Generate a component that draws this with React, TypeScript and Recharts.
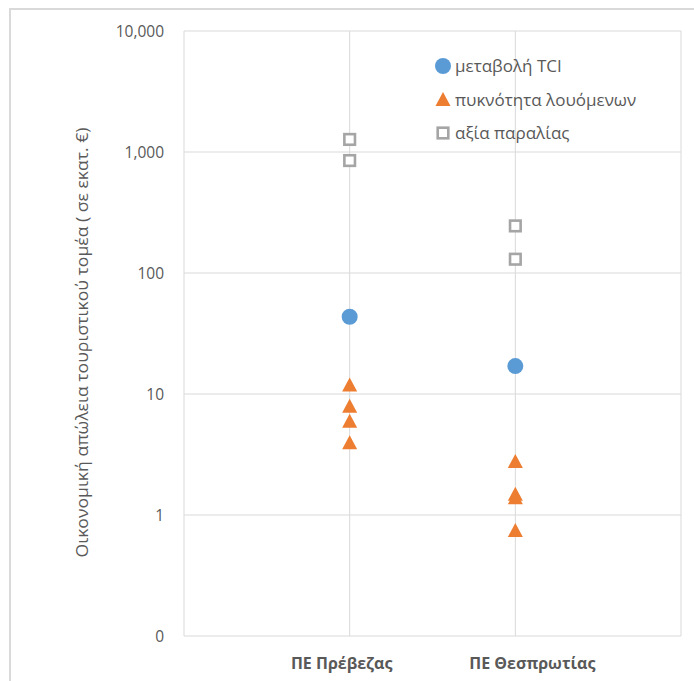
import React from 'react';
import { ScatterChart, Scatter, XAxis, YAxis, CartesianGrid, Legend } from 'recharts';

// categories on the x axis
const categories = ['ΠΕ Πρέβεζας', 'ΠΕ Θεσπρωτίας'];

// values per category (million €)
const tciChange = [[43.5], [17]];
const bathersDensity = [[12, 8, 6, 4], [2.8, 1.5, 1.4, 0.75]];
const beachValue = [[1270, 850], [245, 130]];

const yTicks = [0.1, 1, 10, 100, 1000, 10000];
const xTicks = [0, 1, 2, 3];

const seriesNames = ['μεταβολή TCI', 'πυκνότητα λουόμενων', 'αξία παραλίας'];

const BLUE = '#5B9BD5';
const ORANGE = '#ED7D31';
const GREY = '#A5A5A5';
const TEXT = '#595959';
const FONT = '"Open Sans", sans-serif';

const toPoints = (vals: number[][]) =>
  vals.flatMap((list, i) => list.map((v) => ({ x: i + 1, y: v })));

const CircleMark = (p: any) => <circle cx={p.cx} cy={p.cy} r={8} fill={BLUE} />;
const TriangleMark = (p: any) => (
  <polygon
    points={`${p.cx},${p.cy - 7} ${p.cx + 7.5},${p.cy + 7} ${p.cx - 7.5},${p.cy + 7}`}
    fill={ORANGE}
  />
);
const SquareMark = (p: any) => (
  <rect x={p.cx - 5.3} y={p.cy - 5.3} width={10.6} height={10.6} fill="#fff" stroke={GREY} strokeWidth={2.6} />
);

// the category labels sit a little off their gridlines in the original
const labelShift = [-8, 17];

const CategoryTick = ({ x, y, payload }: any) => {
  const i = payload.value - 1;
  if (!categories[i]) return null;
  return (
    <text
      x={x + labelShift[i]}
      y={y}
      dy="0.71em"
      textAnchor="middle"
      fill={TEXT}
      fontFamily={FONT}
      fontSize={16}
      fontWeight={700}
    >
      {categories[i]}
    </text>
  );
};

const LegendBox = () => {
  const icons = [
    <circle cx={8} cy={8} r={8} fill={BLUE} />,
    <polygon points="8,1 15.5,15 0.5,15" fill={ORANGE} />,
    <rect x={2.7} y={2.7} width={10.6} height={10.6} fill="#fff" stroke={GREY} strokeWidth={2.6} />,
  ];
  return (
    <div style={{ fontFamily: FONT, fontSize: 17, color: TEXT }}>
      {seriesNames.map((n, i) => (
        <div key={n} style={{ display: 'flex', alignItems: 'center', height: 33.5 }}>
          <svg width={16} height={16} style={{ marginRight: 4 }}>{icons[i]}</svg>
          <span>{n}</span>
        </div>
      ))}
    </div>
  );
};

const YTitle = ({ viewBox }: any) => {
  const x = viewBox.x + 82;
  const y = viewBox.y + viewBox.height / 2 + 9;
  return (
    <text
      x={x}
      y={y}
      transform={`rotate(-90 ${x} ${y})`}
      textAnchor="middle"
      dominantBaseline="central"
      fill={TEXT}
      fontFamily={FONT}
      fontSize={16}
      textLength={430}
      lengthAdjust="spacingAndGlyphs"
    >
      Οικονομική απώλεια τουριστικού τομέα ( σε εκατ. €)
    </text>
  );
};

export default function App() {
  return (
    <div style={{ position: 'absolute', left: 0, top: 0, width: 694, height: 681, overflow: 'hidden', background: '#fff' }}>
      <div
        style={{
          position: 'absolute',
          left: 9,
          top: 8,
          width: 720,
          height: 720,
          border: '2px solid #d9d9d9',
        }}
      />
      <div style={{ position: 'absolute', left: 0, top: 0 }}>
        <ScatterChart width={694} height={681} margin={{ top: 31, right: 13, bottom: 0, left: 0 }}>
          <CartesianGrid stroke="#d9d9d9" strokeWidth={1} />
          <XAxis
            type="number"
            dataKey="x"
            domain={[0, 3]}
            ticks={xTicks}
            interval={0}
            axisLine={false}
            tickLine={false}
            tickMargin={16}
            height={45}
            tick={<CategoryTick />}
          />
          <YAxis
            type="number"
            dataKey="y"
            scale="log"
            domain={[0.1, 10000]}
            allowDataOverflow
            ticks={yTicks}
            interval={0}
            tickFormatter={(v: number) => (v < 1 ? '0' : v.toLocaleString('en-US'))}
            axisLine={false}
            tickLine={false}
            tickMargin={14}
            width={184}
            tick={{ fill: TEXT, fontFamily: FONT, fontSize: 15.5 }}
            label={<YTitle />}
          />
          <Legend
            layout="vertical"
            verticalAlign="middle"
            align="center"
            wrapperStyle={{ position: 'absolute', left: 435, top: 49, width: 240, height: 101 }}
            content={<LegendBox />}
          />
          <Scatter name={seriesNames[0]} data={toPoints(tciChange)} shape={CircleMark} isAnimationActive={false} />
          <Scatter name={seriesNames[1]} data={toPoints(bathersDensity)} shape={TriangleMark} isAnimationActive={false} />
          <Scatter name={seriesNames[2]} data={toPoints(beachValue)} shape={SquareMark} isAnimationActive={false} />
        </ScatterChart>
      </div>
    </div>
  );
}
